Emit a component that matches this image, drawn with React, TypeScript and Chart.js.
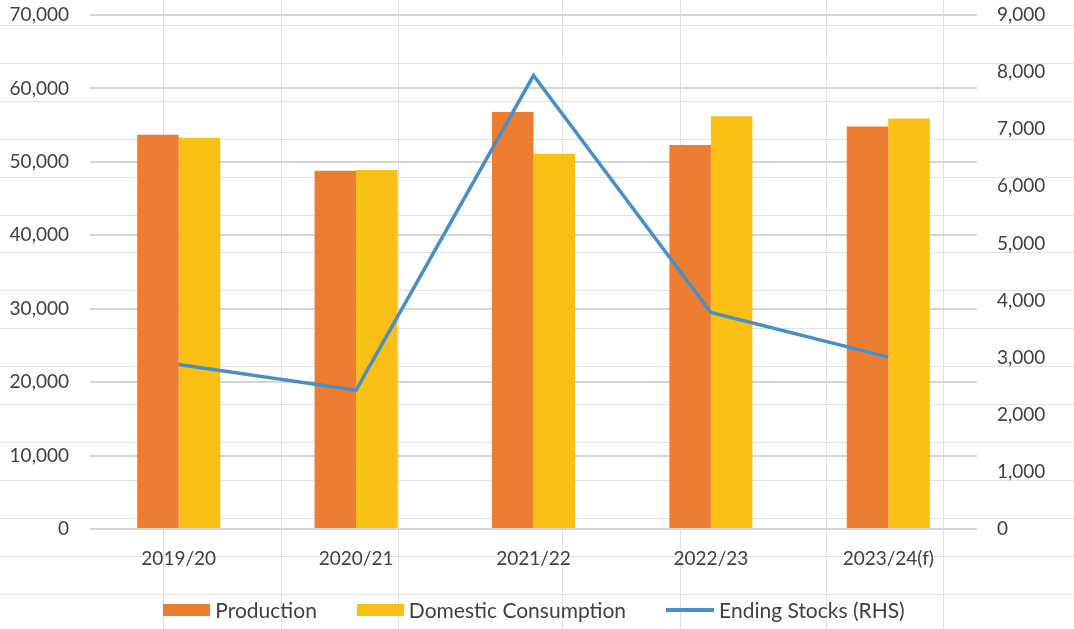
import React, { useEffect, useRef } from "react";
import { Chart, registerables } from "chart.js";

Chart.register(...registerables);

const categories = ["2019/20", "2020/21", "2021/22", "2022/23", "2023/24(f)"];
const production = [53700, 48800, 56800, 52300, 54800];
const domesticConsumption = [53300, 48900, 51100, 56200, 55900];
const endingStocks = [2880, 2430, 7940, 3790, 3010];

const leftMax = 70000;
const leftStep = 10000;
const rightMax = 9000;
const rightStep = 1000;

const seriesNames = ["Production", "Domestic Consumption", "Ending Stocks (RHS)"];
const seriesColors = ["#ED7D31", "#FBC015", "#4A8EC6"];

// Spreadsheet cell grid visible behind the chart (decoration only)
const sheetRows = [25, 63, 101, 139, 177, 215, 252, 290, 328, 366, 404, 442, 480, 518, 556, 594];
const sheetCols = [163, 281, 398, 562, 680, 826, 943];

const FONT = "Lato, 'Open Sans', sans-serif";
const TEXT = "#404040";

const sheetGrid = {
  id: "sheetGrid",
  beforeDraw(chart: any) {
    const { ctx, width, height } = chart;
    ctx.save();
    ctx.fillStyle = "#ffffff";
    ctx.fillRect(0, 0, width, height);
    ctx.strokeStyle = "#e2e2e2";
    ctx.lineWidth = 1;
    ctx.beginPath();
    sheetRows.forEach((y) => {
      ctx.moveTo(0, y + 0.5);
      ctx.lineTo(width, y + 0.5);
    });
    sheetCols.forEach((x) => {
      ctx.moveTo(x + 0.5, 0);
      ctx.lineTo(x + 0.5, height);
    });
    ctx.stroke();
    ctx.restore();
  },
};

const fmt = (v: number) => Number(v).toLocaleString("en-US");

export default function App() {
  const ref = useRef<HTMLCanvasElement | null>(null);

  useEffect(() => {
    if (!ref.current) return;
    const chart = new Chart(ref.current, {
      type: "bar",
      data: {
        labels: categories,
        datasets: [
          {
            type: "bar",
            label: seriesNames[0],
            data: production,
            backgroundColor: seriesColors[0],
            borderWidth: 0,
            yAxisID: "y",
            order: 1,
          },
          {
            type: "bar",
            label: seriesNames[1],
            data: domesticConsumption,
            backgroundColor: seriesColors[1],
            borderWidth: 0,
            yAxisID: "y",
            order: 1,
          },
          {
            type: "line",
            label: seriesNames[2],
            data: endingStocks,
            borderColor: seriesColors[2],
            backgroundColor: seriesColors[2],
            borderWidth: 3.5,
            pointRadius: 0,
            tension: 0,
            yAxisID: "y1",
            order: 0,
          },
        ] as any,
      },
      options: {
        animation: false,
        responsive: false,
        maintainAspectRatio: false,
        layout: { padding: { top: 15, bottom: 50, left: 0, right: 0 } },
        datasets: {
          bar: { categoryPercentage: 0.468, barPercentage: 1 },
        },
        plugins: {
          tooltip: { enabled: false },
          legend: { display: false },
        },
        scales: {
          x: {
            grid: { display: false, drawTicks: false },
            border: { display: false },
            ticks: {
              color: TEXT,
              font: { family: FONT, size: 19 },
              padding: 18,
              maxRotation: 0,
            },
            afterFit: (s: any) => {
              s.height = 50;
            },
          },
          y: {
            position: "left",
            min: 0,
            max: leftMax,
            grid: { color: "#d6d6d6", lineWidth: 2, drawTicks: false },
            border: { display: false },
            ticks: {
              stepSize: leftStep,
              color: TEXT,
              font: { family: FONT, size: 19 },
              padding: 21,
              callback: (v: any) => fmt(v),
            },
            afterFit: (s: any) => {
              s.width = 90;
              s.paddingTop = 0;
              s.paddingBottom = 0;
            },
          },
          y1: {
            position: "right",
            min: 0,
            max: rightMax,
            grid: { display: false, drawTicks: false },
            border: { display: false },
            ticks: {
              stepSize: rightStep,
              color: TEXT,
              font: { family: FONT, size: 19 },
              padding: 20,
              callback: (v: any) => fmt(v),
            },
            afterFit: (s: any) => {
              s.width = 97;
              s.paddingTop = 0;
              s.paddingBottom = 0;
            },
          },
        },
      } as any,
      plugins: [sheetGrid],
    });
    return () => chart.destroy();
  }, []);

  const swatch = (i: number) =>
    i < 2 ? (
      <span style={{ display: "inline-block", width: 47, height: 12, background: seriesColors[i] }} />
    ) : (
      <span style={{ display: "inline-block", width: 48, height: 4, background: seriesColors[i] }} />
    );

  return (
    <div style={{ position: "fixed", left: 0, top: 0, width: 1074, height: 629, background: "#fff" }}>
      <canvas ref={ref} width={1074} height={629} style={{ display: "block", width: 1074, height: 629 }} />
      <div
        style={{
          position: "absolute",
          left: 0,
          top: 597,
          width: 1074,
          height: 26,
          display: "flex",
          justifyContent: "center",
          alignItems: "center",
          gap: 40,
          paddingRight: 6,
          boxSizing: "border-box",
          fontFamily: FONT,
          fontSize: 21,
          color: TEXT,
          lineHeight: "26px",
        }}
      >
        {seriesNames.map((name, i) => (
          <div key={name} style={{ display: "flex", alignItems: "center", gap: 5 }}>
            {swatch(i)}
            <span>{name}</span>
          </div>
        ))}
      </div>
    </div>
  );
}
